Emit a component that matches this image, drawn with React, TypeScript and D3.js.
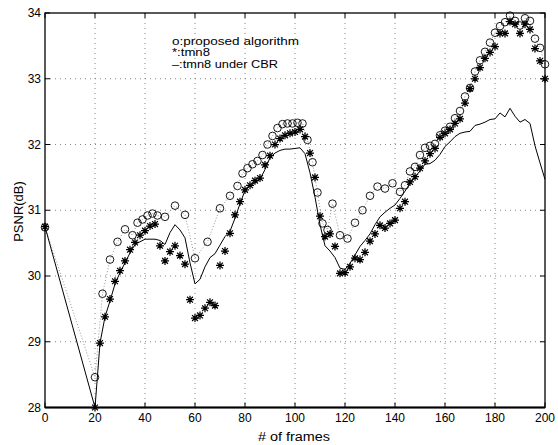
import React from 'react';
import * as d3 from 'd3';

const frames = [0, 20, 22, 24, 26, 28, 30, 32, 34, 36, 38, 40, 42, 44, 46, 48, 50, 52, 54, 56, 58, 60, 62, 64, 66, 68, 70, 72, 74, 76, 78, 80, 82, 84, 86, 88, 90, 92, 94, 96, 98, 100, 102, 104, 106, 108, 110, 112, 114, 116, 118, 120, 122, 124, 126, 128, 130, 132, 134, 136, 138, 140, 142, 144, 146, 148, 150, 152, 154, 156, 158, 160, 162, 164, 166, 168, 170, 172, 174, 176, 178, 180, 182, 184, 186, 188, 190, 192, 194, 196, 198, 200];

const tmn8 = [30.75, 28.0, 28.98, 29.38, 29.65, 29.92, 30.08, 30.23, 30.40, 30.51, 30.62, 30.69, 30.76, 30.79, 30.46, 30.23, 30.37, 30.46, 30.31, 30.18, 29.64, 29.36, 29.40, 29.51, 29.60, 29.55, 30.16, 30.38, 30.65, 30.93, 31.13, 31.31, 31.38, 31.45, 31.49, 31.69, 31.83, 32.00, 32.09, 32.14, 32.17, 32.19, 32.23, 32.12, 31.87, 31.50, 30.91, 30.60, 30.64, 30.45, 30.04, 30.05, 30.14, 30.27, 30.25, 30.36, 30.53, 30.64, 30.77, 30.73, 30.80, 30.85, 31.03, 31.13, 31.43, 31.51, 31.64, 31.75, 31.86, 31.94, 32.11, 32.17, 32.23, 32.32, 32.39, 32.63, 32.85, 33.00, 33.17, 33.31, 33.40, 33.49, 33.69, 33.69, 33.87, 33.83, 33.69, 33.83, 33.75, 33.46, 33.27, 33.00];

const cbr = [30.75, 28.0, 28.98, 29.38, 29.62, 29.88, 30.05, 30.20, 30.35, 30.48, 30.52, 30.56, 30.56, 30.56, 30.54, 30.48, 30.66, 30.78, 30.70, 30.58, 30.20, 29.88, 29.95, 30.14, 30.28, 30.34, 30.47, 30.60, 30.68, 30.88, 31.10, 31.30, 31.37, 31.42, 31.47, 31.62, 31.80, 31.87, 31.91, 31.93, 31.93, 31.94, 31.95, 31.86, 31.57, 31.20, 30.78, 30.46, 30.38, 30.28, 30.12, 30.10, 30.19, 30.32, 30.45, 30.54, 30.64, 30.78, 30.90, 30.97, 31.03, 31.08, 31.18, 31.29, 31.41, 31.50, 31.60, 31.70, 31.71, 31.76, 31.85, 31.97, 32.04, 32.12, 32.17, 32.19, 32.20, 32.29, 32.31, 32.34, 32.38, 32.39, 32.48, 32.42, 32.55, 32.43, 32.34, 32.38, 32.32, 31.98, 31.72, 31.47];

const propFrames = [0, 20, 23, 26, 29, 32, 35, 37, 39, 41, 43, 45, 48, 52, 56, 60, 65, 70, 74, 77, 79, 81, 83, 85, 87, 89, 91, 93, 95, 97, 99, 101, 103, 105, 107, 109, 111, 113, 115, 118, 121, 124, 127, 130, 133, 136, 139, 142, 144, 146, 148, 150, 152, 154, 156, 158, 160, 162, 164, 166, 168, 170, 172, 174, 176, 178, 180, 182, 184, 186, 188, 190, 192, 194, 196, 198, 200];

const propValues = [30.74, 28.46, 29.73, 30.25, 30.52, 30.71, 30.62, 30.81, 30.86, 30.92, 30.95, 30.92, 30.90, 31.07, 30.93, 30.27, 30.52, 31.03, 31.22, 31.37, 31.56, 31.64, 31.70, 31.75, 31.84, 32.00, 32.13, 32.25, 32.31, 32.32, 32.32, 32.33, 32.32, 32.07, 31.73, 31.27, 30.80, 30.70, 31.10, 30.62, 30.57, 30.81, 31.00, 31.22, 31.36, 31.33, 31.41, 31.28, 31.38, 31.59, 31.66, 31.84, 31.95, 31.98, 32.01, 32.14, 32.21, 32.27, 32.40, 32.51, 32.73, 32.86, 33.11, 33.28, 33.41, 33.55, 33.70, 33.80, 33.86, 33.96, 33.88, 33.81, 33.92, 33.88, 33.61, 33.47, 33.22];

const xTicks = [0, 20, 40, 60, 80, 100, 120, 140, 160, 180, 200];
const yTicks = [28, 29, 30, 31, 32, 33, 34];
const legendLines = ['o:proposed algorithm', '*:tmn8', '\u2013:tmn8 under CBR'];
const legendWidths = [127, 38, 106];

const W = 558;
const H = 445;
const L = 45, R = 545, T = 13, B = 407.5;
const FONT = '"Liberation Sans", Arial, Helvetica, sans-serif';

export default function App() {
  const x = d3.scaleLinear().domain([0, 200]).range([L, R]);
  const y = d3.scaleLinear().domain([28, 34]).range([B, T]);

  const cbrLine = d3.line<number>().x((_, i) => x(frames[i])).y((d) => y(d))(cbr) || '';
  const propLine = d3.line<number>().x((_, i) => x(propFrames[i])).y((d) => y(d))(propValues) || '';

  const s = 4;
  const dd = 2.9;
  const starPath = `M${-s},0L${s},0M0,${-s}L0,${s}M${-dd},${-dd}L${dd},${dd}M${-dd},${dd}L${dd},${-dd}`;

  return (
    <svg width={W} height={H} style={{ position: 'absolute', left: 0, top: 0, background: '#fff' }} fontFamily={FONT}>
      <rect x={0} y={0} width={W} height={H} fill="#fff" />
      {xTicks.slice(1, -1).map((t) => (
        <line key={'gx' + t} x1={x(t)} x2={x(t)} y1={T} y2={B} stroke="#666" strokeWidth={0.8} strokeDasharray="1,4" />
      ))}
      {yTicks.slice(1, -1).map((t) => (
        <line key={'gy' + t} x1={L} x2={R} y1={y(t)} y2={y(t)} stroke="#666" strokeWidth={0.8} strokeDasharray="1,4" />
      ))}
      <path d={propLine} fill="none" stroke="#888" strokeWidth={0.9} strokeDasharray="1,2" />
      <path d={cbrLine} fill="none" stroke="#000" strokeWidth={1} />
      {tmn8.map((v, i) => (
        <path key={'s' + i} d={starPath} transform={`translate(${x(frames[i])},${y(v)})`} stroke="#000" strokeWidth={1.25} fill="none" />
      ))}
      {propValues.map((v, i) => (
        <circle key={'c' + i} cx={x(propFrames[i])} cy={y(v)} r={3.8} fill="none" stroke="#000" strokeWidth={0.9} />
      ))}
      <rect x={L} y={T} width={R - L} height={B - T} fill="none" stroke="#000" strokeWidth={1.3} />
      <line x1={L} x2={R} y1={B} y2={B} stroke="#000" strokeWidth={2} />
      {xTicks.map((t) => (
        <g key={'xt' + t}>
          <line x1={x(t)} x2={x(t)} y1={B} y2={B - 5} stroke="#000" strokeWidth={1} />
          <line x1={x(t)} x2={x(t)} y1={T} y2={T + 5} stroke="#000" strokeWidth={1} />
          <text x={x(t)} y={422} fontSize={12} textAnchor="middle" fill="#000">{t}</text>
        </g>
      ))}
      {yTicks.map((t) => (
        <g key={'yt' + t}>
          <line x1={L} x2={L + 5} y1={y(t)} y2={y(t)} stroke="#000" strokeWidth={1} />
          <line x1={R} x2={R - 5} y1={y(t)} y2={y(t)} stroke="#000" strokeWidth={1} />
          <text x={41} y={y(t) + 4} fontSize={12} textAnchor="end" fill="#000">{t}</text>
        </g>
      ))}
      <text x={294} y={441} fontSize={12} textAnchor="middle" textLength={72} lengthAdjust="spacingAndGlyphs" fill="#000"># of frames</text>
      <text transform={`translate(22.5,211.5) rotate(-90)`} fontSize={13} textAnchor="middle" fill="#000">PSNR(dB)</text>
      {legendLines.map((t, i) => (
        <text key={'lg' + i} x={172} y={44.5 + i * 11.6} fontSize={10} textLength={legendWidths[i]} lengthAdjust="spacingAndGlyphs" fill="#000">{t}</text>
      ))}
    </svg>
  );
}
